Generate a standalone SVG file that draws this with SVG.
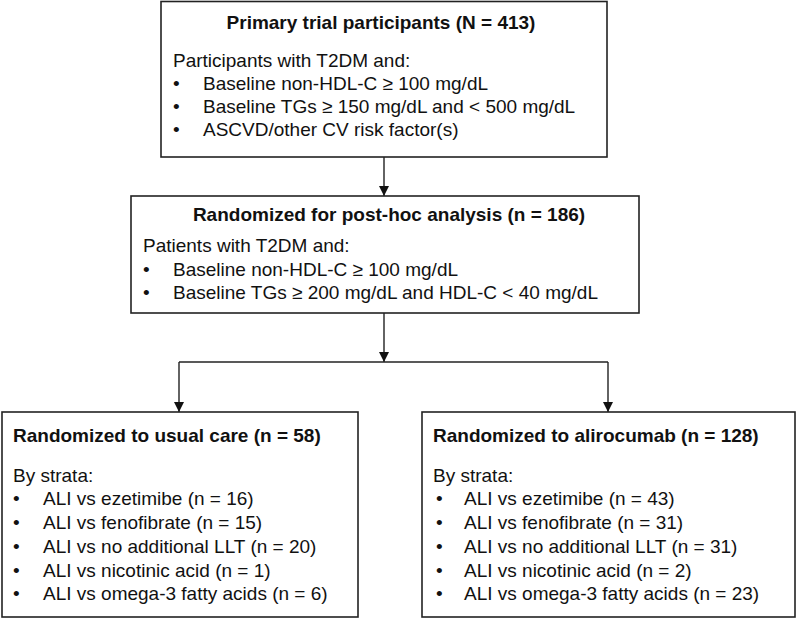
<svg xmlns="http://www.w3.org/2000/svg" width="797" height="620" viewBox="0 0 797 620">
<defs>
<style>
.box{fill:#fff;stroke:#222;stroke-width:1.6}
.t{font-family:"Liberation Sans",Arial,Helvetica,sans-serif;font-size:19px;fill:#111}
.b{font-weight:bold}
.m{text-anchor:middle}
.con{fill:none;stroke:#222;stroke-width:1.4}
</style>
<marker id="ah" viewBox="0 0 10 10" refX="10" refY="5" markerWidth="10" markerHeight="10" markerUnits="userSpaceOnUse" orient="auto">
<path d="M0,0 L10,5 L0,10 z" fill="#111"/>
</marker>
</defs>
<rect width="797" height="620" fill="#fff"/>
<g id="connectors">
<line class="con" x1="384" y1="157" x2="384" y2="196" marker-end="url(#ah)"/>
<line class="con" x1="384" y1="313" x2="384" y2="362" marker-end="url(#ah)"/>
<line class="con" x1="179" y1="362" x2="608" y2="362"/>
<line class="con" x1="179" y1="362" x2="179" y2="412" marker-end="url(#ah)"/>
<line class="con" x1="608" y1="362" x2="608" y2="412" marker-end="url(#ah)"/>
</g>
<g id="primary">
<rect class="box" x="161" y="1.5" width="446" height="155.5"/>
<text class="t b m" x="381" y="29">Primary trial participants (N = 413)</text>
<text class="t" x="173" y="67">Participants with T2DM and:</text>
<text class="t" x="173" y="90">•</text><text class="t" x="203" y="90">Baseline non-HDL-C ≥ 100 mg/dL</text>
<text class="t" x="173" y="113">•</text><text class="t" x="203" y="113">Baseline TGs ≥ 150 mg/dL and &lt; 500 mg/dL</text>
<text class="t" x="173" y="136">•</text><text class="t" x="203" y="136">ASCVD/other CV risk factor(s)</text>
</g>
<g id="posthoc">
<rect class="box" x="131" y="196" width="508" height="117"/>
<text class="t b m" x="389" y="221">Randomized for post-hoc analysis (n = 186)</text>
<text class="t" x="143" y="252">Patients with T2DM and:</text>
<text class="t" x="143" y="276">•</text><text class="t" x="173" y="276">Baseline non-HDL-C ≥ 100 mg/dL</text>
<text class="t" x="143" y="299">•</text><text class="t" x="173" y="299">Baseline TGs ≥ 200 mg/dL and HDL-C &lt; 40 mg/dL</text>
</g>
<g id="usualcare">
<rect class="box" x="2" y="412" width="356" height="205"/>
<text class="t b" x="13" y="442">Randomized to usual care (n = 58)</text>
<text class="t" x="13" y="482">By strata:</text>
<text class="t" x="13" y="505">•</text><text class="t" x="43" y="505">ALI vs ezetimibe (n = 16)</text>
<text class="t" x="13" y="529">•</text><text class="t" x="43" y="529">ALI vs fenofibrate (n = 15)</text>
<text class="t" x="13" y="553">•</text><text class="t" x="43" y="553">ALI vs no additional LLT (n = 20)</text>
<text class="t" x="13" y="577">•</text><text class="t" x="43" y="577">ALI vs nicotinic acid (n = 1)</text>
<text class="t" x="13" y="600">•</text><text class="t" x="43" y="600">ALI vs omega-3 fatty acids (n = 6)</text>
</g>
<g id="alirocumab">
<rect class="box" x="422" y="412" width="373" height="205"/>
<text class="t b" x="433" y="442">Randomized to alirocumab (n = 128)</text>
<text class="t" x="433" y="482">By strata:</text>
<text class="t" x="436" y="505">•</text><text class="t" x="464" y="505">ALI vs ezetimibe (n = 43)</text>
<text class="t" x="436" y="529">•</text><text class="t" x="464" y="529">ALI vs fenofibrate (n = 31)</text>
<text class="t" x="436" y="553">•</text><text class="t" x="464" y="553">ALI vs no additional LLT (n = 31)</text>
<text class="t" x="436" y="577">•</text><text class="t" x="464" y="577">ALI vs nicotinic acid (n = 2)</text>
<text class="t" x="436" y="600">•</text><text class="t" x="464" y="600">ALI vs omega-3 fatty acids (n = 23)</text>
</g>
</svg>
